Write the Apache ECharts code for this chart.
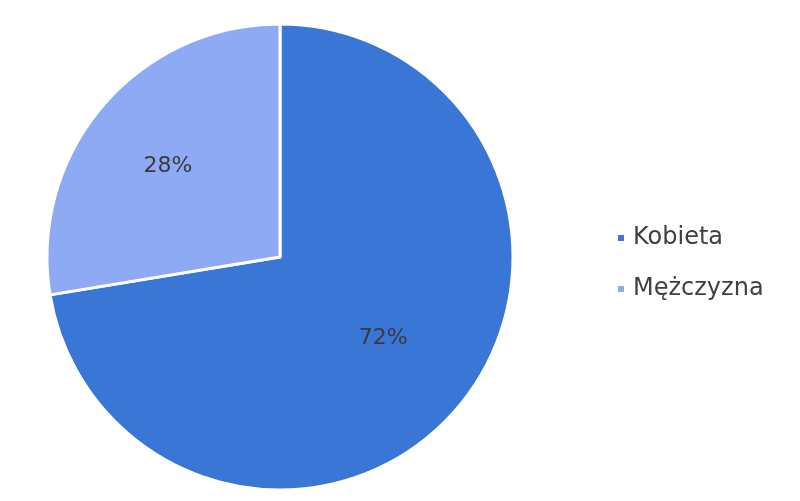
<!DOCTYPE html>
<html>
<head>
<meta charset="utf-8">
<script src="https://cdn.jsdelivr.net/npm/echarts@6/dist/echarts.min.js"></script>
<style>html,body{margin:0;padding:0;background:#fff}#c{width:800px;height:501px}</style>
</head>
<body>
<div id="c"></div>
<script>
const categories = ['Kobieta', 'Mężczyzna'];
const values = [72.4, 27.6];
const colors = ['#3A76D6', '#8FAAF5'];
const labelOffsets = [[12, 4], [-21, -13]];

const chart = echarts.init(document.getElementById('c'));
chart.setOption({
  backgroundColor: '#fff',
  animation: false,
  legend: {
    orient: 'vertical',
    left: 611,
    top: 221,
    itemWidth: 8,
    itemHeight: 8,
    itemGap: 27,
    icon: 'rect',
    data: categories,
    textStyle: { fontFamily: 'DejaVu Sans', fontSize: 24, color: '#404040', lineHeight: 24, padding: [0, 0, 0, 3] }
  },
  series: [{
    type: 'pie',
    center: [280, 257],
    radius: 233,
    startAngle: 90,
    clockwise: true,
    itemStyle: { borderColor: '#fff', borderWidth: 3 },
    label: {
      position: 'inside',
      fontFamily: 'DejaVu Sans',
      fontSize: 22,
      color: '#3a3a3a',
      formatter: p => Math.round(p.percent) + '%'
    },
    labelLine: { show: false },
    emphasis: { disabled: true },
    data: categories.map((n, i) => ({
      name: n, value: values[i],
      itemStyle: { color: colors[i] },
      label: { offset: labelOffsets[i] }
    }))
  }]
});
</script>
</body>
</html>
